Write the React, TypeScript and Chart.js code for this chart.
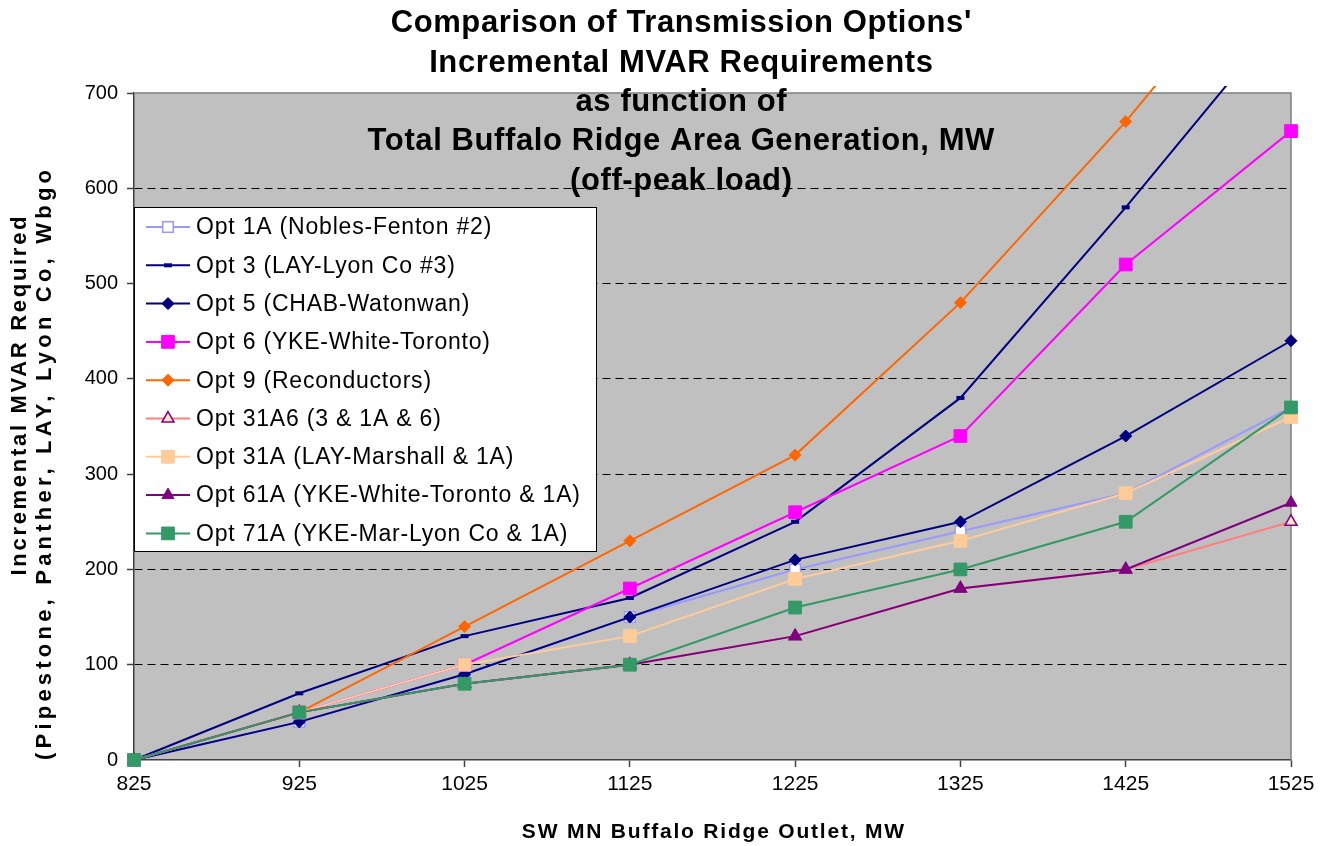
import React, { useEffect, useRef } from 'react';
import { Chart, registerables } from 'chart.js';
import { drawPoint } from 'chart.js/helpers';

Chart.register(...registerables);

// ---- Data ----
const mwValues = [825, 925, 1025, 1125, 1225, 1325, 1425, 1525];
const yTickValues = [0, 100, 200, 300, 400, 500, 600, 700];

const opt1A = [0, 40, 90, 150, 200, 240, 280, 370];
const opt3 = [0, 70, 130, 170, 250, 380, 580, 790];
const opt5 = [0, 40, 90, 150, 210, 250, 340, 440];
const opt6 = [0, 50, 100, 180, 260, 340, 520, 660];
const opt9 = [0, 50, 140, 230, 320, 480, 670, 880];
const opt31A6 = [0, 50, 80, 100, 130, 180, 200, 250];
const opt31A = [0, 50, 100, 130, 190, 230, 280, 360];
const opt61A = [0, 50, 80, 100, 130, 180, 200, 270];
const opt71A = [0, 50, 80, 100, 160, 200, 250, 370];

const seriesLabels = [
  'Opt 1A (Nobles-Fenton #2)',
  'Opt 3 (LAY-Lyon Co #3)',
  'Opt 5 (CHAB-Watonwan)',
  'Opt 6 (YKE-White-Toronto)',
  'Opt 9 (Reconductors)',
  'Opt 31A6 (3 & 1A & 6)',
  'Opt 31A (LAY-Marshall & 1A)',
  'Opt 61A (YKE-White-Toronto & 1A)',
  'Opt 71A (YKE-Mar-Lyon Co & 1A)',
];
const seriesValues = [opt1A, opt3, opt5, opt6, opt9, opt31A6, opt31A, opt61A, opt71A];

const titleLines = [
  "Comparison of Transmission Options'",
  'Incremental MVAR Requirements',
  'as function of',
  'Total Buffalo Ridge Area Generation, MW',
  '(off-peak load)',
];
const xAxisTitle = 'SW MN Buffalo Ridge Outlet, MW';
const yAxisTitleLines = ['Incremental MVAR Required', '(Pipestone, Panther, LAY, Lyon Co, Wbgo'];

// ---- Styles ----
type Sty = { line: string; style: any; radius: number; fill: string; stroke: string; bw: number };
const styles: Sty[] = [
  { line: '#9999FF', style: 'rect', radius: 7.5, fill: '#FFFFFF', stroke: '#9999FF', bw: 1.5 },
  { line: '#000080', style: 'line', radius: 4, fill: '#000080', stroke: '#000080', bw: 4 },
  { line: '#000080', style: 'rectRot', radius: 6, fill: '#000080', stroke: '#000080', bw: 1 },
  { line: '#FF00FF', style: 'rect', radius: 9, fill: '#FF00FF', stroke: '#FF00FF', bw: 1 },
  { line: '#FF6600', style: 'rectRot', radius: 6, fill: '#FF6600', stroke: '#FF6600', bw: 1 },
  { line: '#FF8080', style: 'triangle', radius: 7, fill: '#FFE4C8', stroke: '#800080', bw: 1.5 },
  { line: '#FFCC99', style: 'rect', radius: 9, fill: '#FFCC99', stroke: '#FFCC99', bw: 1 },
  { line: '#800080', style: 'triangle', radius: 7, fill: '#800080', stroke: '#800080', bw: 1 },
  { line: '#339966', style: 'rect', radius: 9, fill: '#339966', stroke: '#339966', bw: 1 },
];

const FONT = '"Liberation Sans", Arial, sans-serif';

function drawSpacedText(
  ctx: CanvasRenderingContext2D,
  text: string,
  x: number,
  y: number,
  font: string,
  spacing: number,
  align: 'center' | 'left'
) {
  ctx.save();
  ctx.font = font;
  (ctx as any).letterSpacing = spacing + 'px';
  ctx.textBaseline = 'middle';
  ctx.textAlign = 'left';
  const w = ctx.measureText(text).width;
  const sx = align === 'center' ? x - (w - spacing) / 2 : x;
  ctx.fillStyle = '#000';
  ctx.fillText(text, sx, y);
  ctx.restore();
}

// draws text centred at (x, y), stretched by letter spacing to the given length
function drawFittedText(ctx: CanvasRenderingContext2D, text: string, x: number, y: number, font: string, length: number) {
  ctx.save();
  ctx.font = font;
  (ctx as any).letterSpacing = '0px';
  const w0 = ctx.measureText(text).width;
  const s = Math.max(0, (length - w0) / Math.max(1, text.length - 1));
  ctx.restore();
  drawSpacedText(ctx, text, x, y, font, s, 'center');
}

const decorPlugin = {
  id: 'decor',
  beforeDraw(chart: any) {
    const { ctx, chartArea } = chart;
    ctx.save();
    ctx.fillStyle = '#FFFFFF';
    ctx.fillRect(0, 0, chart.width, chart.height);
    ctx.fillStyle = '#C0C0C0';
    ctx.fillRect(chartArea.left, chartArea.top, chartArea.right - chartArea.left, chartArea.bottom - chartArea.top);
    ctx.restore();
  },
  beforeDatasetsDraw(chart: any) {
    const { ctx, chartArea } = chart;
    ctx.save();
    ctx.strokeStyle = '#808080';
    ctx.lineWidth = 1.5;
    ctx.beginPath();
    ctx.moveTo(chartArea.left, chartArea.top);
    ctx.lineTo(chartArea.right, chartArea.top);
    ctx.lineTo(chartArea.right, chartArea.bottom);
    ctx.stroke();
    ctx.restore();
  },
  afterDatasetsDraw(chart: any) {
    const { ctx } = chart;
    // legend box
    const bx = 134, by = 207, bw = 462, bh = 344;
    ctx.save();
    ctx.fillStyle = '#FFFFFF';
    ctx.fillRect(bx, by, bw, bh);
    ctx.strokeStyle = '#000000';
    ctx.lineWidth = 1;
    ctx.strokeRect(bx + 0.5, by + 0.5, bw, bh);
    seriesLabels.forEach((label, i) => {
      const st = styles[i];
      const cy = 227 + i * 38.3;
      ctx.strokeStyle = st.line;
      ctx.lineWidth = 2;
      ctx.beginPath();
      ctx.moveTo(146, cy);
      ctx.lineTo(190, cy);
      ctx.stroke();
      ctx.fillStyle = st.fill;
      ctx.strokeStyle = st.stroke;
      ctx.lineWidth = st.bw;
      drawPoint(ctx, { pointStyle: st.style, radius: st.radius, rotation: 0, borderWidth: st.bw } as any, 168, cy);
      drawSpacedText(ctx, label, 196, cy + 1, '23px ' + FONT, 0.8, 'left');
    });
    ctx.restore();
  },
  afterDraw(chart: any) {
    const { ctx } = chart;
    const ys = [23, 63, 102, 141, 181];
    titleLines.forEach((t, i) => drawSpacedText(ctx, t, 681, ys[i], 'bold 31px ' + FONT, 0.6, 'center'));
    drawSpacedText(ctx, xAxisTitle, 713, 832, 'bold 21px ' + FONT, 1.8, 'center');
    const yTitles = [
      { x: 20, y: 396, len: 359 },
      { x: 45, y: 465, len: 590 },
    ];
    yAxisTitleLines.forEach((t, i) => {
      ctx.save();
      ctx.translate(yTitles[i].x, yTitles[i].y);
      ctx.rotate(-Math.PI / 2);
      drawFittedText(ctx, t, 0, 0, 'bold 22px ' + FONT, yTitles[i].len);
      ctx.restore();
    });
  },
};

export default function App() {
  const ref = useRef<HTMLCanvasElement>(null);
  useEffect(() => {
    const canvas = ref.current;
    if (!canvas) return;
    const datasets = seriesLabels.map((label, i) => {
      const st = styles[i];
      return {
        label,
        data: mwValues.map((x, j) => ({ x, y: seriesValues[i][j] })),
        borderColor: st.line,
        backgroundColor: st.fill,
        borderWidth: 2,
        pointStyle: st.style,
        pointRadius: st.radius,
        pointHoverRadius: st.radius,
        pointBackgroundColor: st.fill,
        pointBorderColor: st.stroke,
        pointBorderWidth: st.bw,
        tension: 0,
        fill: false,
        order: seriesLabels.length - 1 - i,
        clip: { left: 12, top: 7, right: 12, bottom: 12 },
      };
    });
    const chart = new Chart(canvas, {
      type: 'line',
      data: { datasets },
      plugins: [decorPlugin],
      options: {
        animation: false,
        responsive: false,
        devicePixelRatio: 1,
        layout: { padding: { left: 0, top: 93, right: 42, bottom: 0 } },
        plugins: {
          legend: { display: false },
          title: { display: false },
          tooltip: { enabled: false },
        },
        scales: {
          x: {
            type: 'linear',
            min: 825,
            max: 1525,
            afterBuildTicks: (s: any) => {
              s.ticks = mwValues.map((v) => ({ value: v }));
            },
            afterFit: (s: any) => {
              s.height = 86;
            },
            ticks: {
              color: '#000',
              font: { family: FONT, size: 21 },
              padding: 5,
              maxRotation: 0,
              autoSkip: false,
              callback: (v: any) => String(v),
            },
            grid: {
              drawOnChartArea: false,
              drawTicks: true,
              tickLength: 7,
              tickColor: '#404040',
              tickWidth: 1.5,
            },
            border: { color: '#404040', width: 1.5 },
          },
          y: {
            type: 'linear',
            min: 0,
            max: 700,
            afterBuildTicks: (s: any) => {
              s.ticks = yTickValues.map((v) => ({ value: v }));
            },
            afterFit: (s: any) => {
              s.width = 134;
            },
            ticks: {
              color: '#000',
              font: { family: FONT, size: 20 },
              padding: 9,
              callback: (v: any) => String(v),
            },
            grid: {
              color: (c: any) =>
                c.tick && (c.tick.value === 0 || c.tick.value === 700) ? 'rgba(0,0,0,0)' : '#000000',
              lineWidth: 1,
              drawTicks: true,
              tickLength: 7,
              tickColor: '#404040',
              tickWidth: 1.5,
              tickBorderDash: [],
            },
            border: { color: '#404040', width: 1.5, dash: [8, 5] },
          },
        },
      } as any,
    });
    return () => chart.destroy();
  }, []);
  return (
    <div style={{ position: 'fixed', left: 0, top: 0, width: 1333, height: 846, background: '#fff' }}>
      <canvas ref={ref} width={1333} height={846} style={{ width: 1333, height: 846, display: 'block' }} />
    </div>
  );
}
